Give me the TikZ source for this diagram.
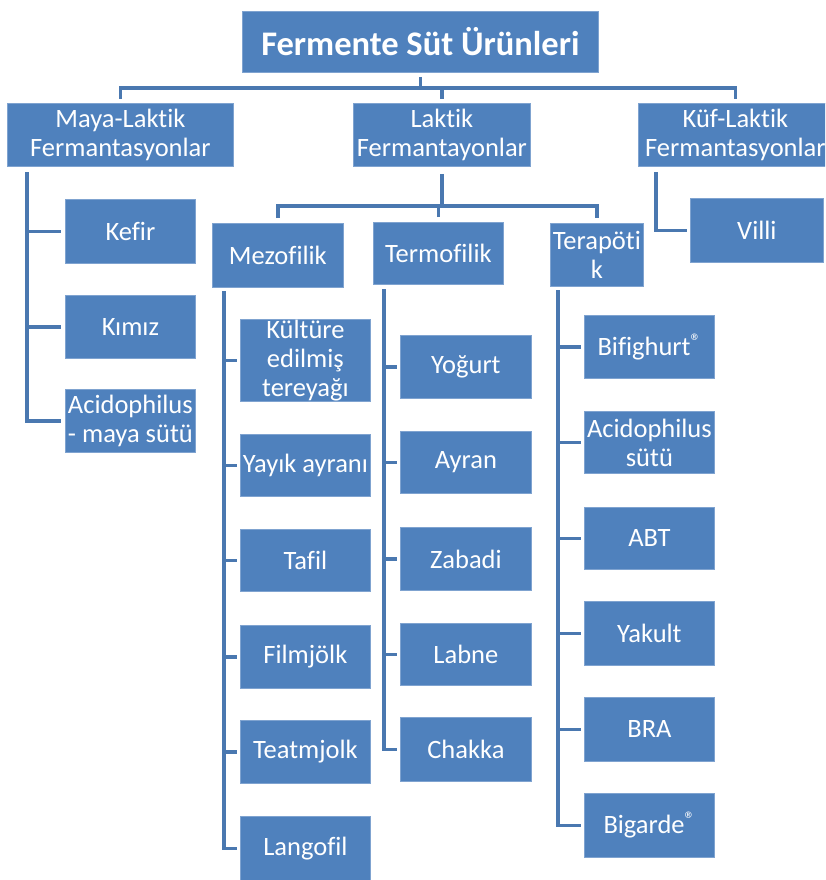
\documentclass[tikz,border=0pt]{standalone}
\usepackage{fontspec}
\setmainfont{Carlito}[Ligatures={NoCommon}]
\definecolor{boxblue}{HTML}{4F81BD}
\definecolor{edgeblue}{HTML}{7FA3D0}
\definecolor{lineblue}{HTML}{4A78B0}
\newcommand{\regmark}{\raisebox{0.55ex}{\fontsize{21}{21}\selectfont ®}}
\begin{document}
\begin{tikzpicture}[x=1pt,y=1pt,
  box/.style={draw=edgeblue, line width=0.8pt, fill=boxblue, text=white, anchor=north west,
    inner sep=0pt, align=center, font=\fontsize{26.5}{29}\selectfont},
  conn/.style={draw=lineblue, line width=3.2pt}]
\useasboundingbox (0,0) rectangle (825,-880);
\clip (0,0) rectangle (825,-880);
% top level
\node[box, minimum width=356pt, minimum height=61pt, font=\fontsize{34.5}{38}\selectfont\bfseries] (title) at (242,-11) {Fermente Süt Ürünleri};
\node[box, minimum width=226pt, minimum height=63pt] (maya) at (7,-103) {Maya-Laktik\\Fermantasyonlar};
\node[box, minimum width=177pt, minimum height=63pt] (laktik) at (353,-103) {Laktik\\Fermantayonlar};
\node[box, minimum width=194pt, minimum height=63pt] (kuf) at (638,-103) {Küf-Laktik\\Fermantasyonlar};
% maya children
\node[box, minimum width=130pt, minimum height=64pt] (kefir) at (65,-199) {Kefir};
\node[box, minimum width=130pt, minimum height=63pt] (kimiz) at (65,-295) {Kımız};
\node[box, minimum width=130pt, minimum height=63pt] (acidm) at (65,-389) {Acidophilus\\- maya sütü};
% kuf child
\node[box, minimum width=133pt, minimum height=64pt] (villi) at (690,-198) {Villi};
% laktik children
\node[box, minimum width=131pt, minimum height=64pt] (mezo) at (212,-223) {Mezofilik};
\node[box, minimum width=130pt, minimum height=62pt] (termo) at (373,-222) {Termofilik};
\node[box, minimum width=93pt, minimum height=63pt] (tera) at (550,-223) {Terapöti\\k};
% mezofilik children
\node[box, minimum width=130pt, minimum height=82pt] (kult) at (240,-319) {Kültüre\\edilmiş\\tereyağı};
\node[box, minimum width=130pt, minimum height=62pt] (yayik) at (240,-434) {Yayık ayranı};
\node[box, minimum width=130pt, minimum height=62pt] (tafil) at (240,-529) {Tafil};
\node[box, minimum width=130pt, minimum height=63pt] (film) at (240,-625) {Filmjölk};
\node[box, minimum width=130pt, minimum height=63pt] (teat) at (240,-720) {Teatmjolk};
\node[box, minimum width=130pt, minimum height=64pt] (lango) at (240,-816) {Langofil};
% termofilik children
\node[box, minimum width=131pt, minimum height=63pt] (yog) at (400,-335) {Yoğurt};
\node[box, minimum width=131pt, minimum height=62pt] (ayran) at (400,-431) {Ayran};
\node[box, minimum width=131pt, minimum height=63pt] (zabadi) at (400,-527) {Zabadi};
\node[box, minimum width=131pt, minimum height=62pt] (labne) at (400,-623) {Labne};
\node[box, minimum width=131pt, minimum height=64pt] (chakka) at (400,-717) {Chakka};
% terapotik children
\node[box, minimum width=130pt, minimum height=63pt] (bifi) at (584,-315) {Bifighurt\regmark};
\node[box, minimum width=130pt, minimum height=62pt] (acids) at (584,-411) {Acidophilus\\sütü};
\node[box, minimum width=130pt, minimum height=62pt] (abt) at (584,-507) {ABT};
\node[box, minimum width=130pt, minimum height=64pt] (yakult) at (584,-601) {Yakult};
\node[box, minimum width=130pt, minimum height=64pt] (bra) at (584,-697) {BRA};
\node[box, minimum width=130pt, minimum height=64pt] (bigarde) at (584,-793) {Bigarde\regmark};
% connectors: title level
\coordinate (tbus) at (419,-88);
\draw[conn] ([yshift=-4pt]title.south) -- (title.south |- tbus);
\draw[conn] ([yshift=4pt]maya.north) |- (tbus) -| ([yshift=4pt]kuf.north);
\draw[conn] ([yshift=4pt]laktik.north) -- (laktik.north |- tbus);
% laktik bus
\coordinate (lbus) at (441,-206);
\draw[conn] ([yshift=-7pt]laktik.south) -- (laktik.south |- lbus);
\draw[conn] ([yshift=5pt]mezo.north) |- (lbus) -| ([yshift=5pt]tera.north);
\draw[conn] ([yshift=5pt]termo.north) -- (termo.north |- lbus);
% maya trunk
\coordinate (mt) at (27,-172);
\draw[conn] (mt) |- ([xshift=-4pt]acidm.west);
\draw[conn] (mt |- kefir.west) -- ([xshift=-4pt]kefir.west);
\draw[conn] (mt |- kimiz.west) -- ([xshift=-4pt]kimiz.west);
% kuf trunk
\coordinate (kt) at (656,-172);
\draw[conn] (kt) |- ([xshift=-3pt]villi.west);
% mezofilik trunk
\coordinate (mz) at (224,-291);
\draw[conn] (mz) |- ([xshift=-3pt]lango.west);
\foreach \n in {kult,yayik,tafil,film,teat}
  \draw[conn] (mz |- \n.west) -- ([xshift=-3pt]\n.west);
% termofilik trunk
\coordinate (tz) at (384,-289);
\draw[conn] (tz) |- ([xshift=-3pt]chakka.west);
\foreach \n in {yog,ayran,zabadi,labne}
  \draw[conn] (tz |- \n.west) -- ([xshift=-3pt]\n.west);
% terapotik trunk
\coordinate (pz) at (558,-290);
\draw[conn] (pz) |- ([xshift=-3pt]bigarde.west);
\foreach \n in {bifi,acids,abt,yakult,bra}
  \draw[conn] (pz |- \n.west) -- ([xshift=-3pt]\n.west);
\end{tikzpicture}
\end{document}
